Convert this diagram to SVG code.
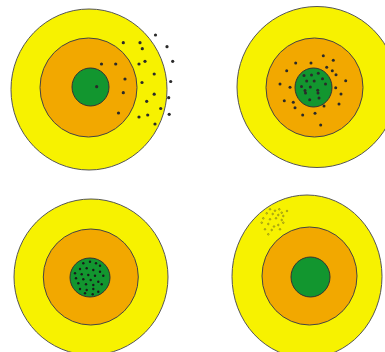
<svg xmlns="http://www.w3.org/2000/svg" width="385" height="352" viewBox="0 0 385 352">
<style>
.y{fill:#f7f200;stroke:#555;stroke-width:1}
.o{fill:#f2a800;stroke:#444;stroke-width:1}
.g{fill:#12962f;stroke:#333;stroke-width:1}
.d circle{fill:#2a2a2a}
.s circle{fill:#1a1a1a}
.t circle{fill:none;stroke:#6b6a20;stroke-width:0.6}
</style>
<rect width="385" height="352" fill="#fff"/>
<g id="target1">
<ellipse class="y" cx="89" cy="89.5" rx="78" ry="80.5"/>
<ellipse class="o" cx="88.5" cy="87.5" rx="48.5" ry="49.5"/>
<ellipse class="g" cx="90.5" cy="87" rx="18.5" ry="19"/>
<g class="d">
<circle cx="96.7" cy="86.7" r="1.6"/><circle cx="101.5" cy="64" r="1.6"/><circle cx="115.7" cy="64" r="1.6"/>
<circle cx="123.3" cy="42.7" r="1.6"/><circle cx="140" cy="42.7" r="1.6"/><circle cx="142.3" cy="48.7" r="1.6"/>
<circle cx="155.5" cy="35" r="1.6"/><circle cx="167" cy="46.7" r="1.6"/><circle cx="172.7" cy="61.3" r="1.6"/>
<circle cx="145" cy="61.3" r="1.6"/><circle cx="139" cy="64" r="1.6"/><circle cx="125" cy="79" r="1.6"/>
<circle cx="142" cy="82.5" r="1.6"/><circle cx="154.2" cy="74" r="1.6"/><circle cx="170.7" cy="81.5" r="1.6"/>
<circle cx="123.3" cy="92.7" r="1.6"/><circle cx="154.2" cy="94.2" r="1.6"/><circle cx="168.7" cy="97.7" r="1.6"/>
<circle cx="146.7" cy="101.3" r="1.6"/><circle cx="160.7" cy="108.5" r="1.6"/><circle cx="169.2" cy="114.3" r="1.6"/>
<circle cx="118.5" cy="113" r="1.6"/><circle cx="139" cy="117" r="1.6"/><circle cx="147.7" cy="115" r="1.6"/>
<circle cx="155" cy="124" r="1.6"/>
</g>
</g>
<g id="target2">
<ellipse class="y" cx="317" cy="87" rx="80" ry="80.5"/>
<ellipse class="o" cx="314.5" cy="87.5" rx="48.5" ry="49.5"/>
<ellipse class="g" cx="313.5" cy="87.5" rx="18.5" ry="19.5"/>
<g class="d">
<circle cx="323.3" cy="55.7" r="1.5"/><circle cx="333.3" cy="60.3" r="1.5"/><circle cx="295.7" cy="63" r="1.5"/>
<circle cx="311" cy="63" r="1.5"/><circle cx="326.7" cy="67.3" r="1.5"/><circle cx="286.7" cy="70.7" r="1.5"/>
<circle cx="332.3" cy="70.7" r="1.5"/><circle cx="336" cy="74.7" r="1.5"/><circle cx="345.7" cy="80.7" r="1.5"/>
<circle cx="280" cy="84" r="1.5"/><circle cx="290" cy="87.3" r="1.5"/><circle cx="335.7" cy="87.7" r="1.5"/>
<circle cx="341" cy="94" r="1.5"/><circle cx="284.3" cy="100.7" r="1.5"/><circle cx="293.3" cy="102.3" r="1.5"/>
<circle cx="295" cy="107.7" r="1.5"/><circle cx="324" cy="106" r="1.5"/><circle cx="339" cy="104" r="1.5"/>
<circle cx="302.7" cy="115" r="1.5"/><circle cx="315" cy="113.3" r="1.5"/><circle cx="320.7" cy="125" r="1.5"/>
<circle cx="304" cy="75.5" r="1.5"/><circle cx="311.5" cy="75" r="1.5"/><circle cx="318.3" cy="73.3" r="1.5"/>
<circle cx="306.7" cy="81" r="1.5"/><circle cx="314.2" cy="81" r="1.5"/><circle cx="322.5" cy="78.7" r="1.5"/>
<circle cx="325.5" cy="84" r="1.5"/><circle cx="301.5" cy="86.5" r="1.5"/><circle cx="310.3" cy="87" r="1.5"/>
<circle cx="305" cy="90.5" r="1.5"/><circle cx="305.5" cy="93" r="1.5"/><circle cx="317.7" cy="90.3" r="1.5"/>
<circle cx="318" cy="93" r="1.5"/><circle cx="319" cy="98" r="1.5"/><circle cx="309.7" cy="99.7" r="1.5"/>
</g>
</g>
<g id="target3">
<ellipse class="y" cx="91" cy="277" rx="77" ry="78"/>
<ellipse class="o" cx="90.8" cy="277" rx="47.5" ry="48"/>
<ellipse class="g" cx="90" cy="277.5" rx="20" ry="19.5"/>
<g class="s">
<circle cx="83.3" cy="263.3" r="1.2"/><circle cx="90" cy="261.7" r="1.2"/><circle cx="96" cy="263.3" r="1.2"/>
<circle cx="100" cy="265.7" r="1.2"/><circle cx="80" cy="269" r="1.2"/><circle cx="86.7" cy="268.3" r="1.2"/>
<circle cx="93.3" cy="270" r="1.2"/><circle cx="100" cy="271.7" r="1.2"/><circle cx="75" cy="273.3" r="1.2"/>
<circle cx="81.7" cy="274.3" r="1.2"/><circle cx="88.3" cy="275" r="1.2"/><circle cx="95" cy="275.7" r="1.2"/>
<circle cx="103.3" cy="275.7" r="1.2"/><circle cx="76" cy="278.3" r="1.2"/><circle cx="83.3" cy="279.3" r="1.2"/>
<circle cx="90.7" cy="280" r="1.2"/><circle cx="98.3" cy="281.7" r="1.2"/><circle cx="78.3" cy="283.3" r="1.2"/>
<circle cx="86" cy="284.3" r="1.2"/><circle cx="93.3" cy="285" r="1.2"/><circle cx="101.7" cy="284.3" r="1.2"/>
<circle cx="80" cy="289" r="1.2"/><circle cx="86.7" cy="290" r="1.2"/><circle cx="93.3" cy="289" r="1.2"/>
<circle cx="85" cy="293.3" r="1.2"/><circle cx="92.7" cy="294.3" r="1.2"/><circle cx="98.3" cy="291.7" r="1.2"/>
</g>
</g>
<g id="target4">
<ellipse class="y" cx="307" cy="276.5" rx="75" ry="81.5"/>
<ellipse class="o" cx="309.5" cy="276" rx="47.5" ry="49"/>
<ellipse class="g" cx="310.5" cy="277" rx="19.5" ry="20"/>
<g class="t">
<circle cx="270" cy="209.3" r="0.8"/><circle cx="275" cy="210.7" r="0.8"/><circle cx="279.3" cy="209.3" r="0.8"/>
<circle cx="281.7" cy="212.7" r="0.8"/><circle cx="266.7" cy="213.3" r="0.8"/><circle cx="272.7" cy="214" r="0.8"/>
<circle cx="278.3" cy="215" r="0.8"/><circle cx="283.3" cy="216" r="0.8"/><circle cx="263.3" cy="218.3" r="0.8"/>
<circle cx="270" cy="219.3" r="0.8"/><circle cx="276" cy="218.3" r="0.8"/><circle cx="281.7" cy="220" r="0.8"/>
<circle cx="261.7" cy="222.7" r="0.8"/><circle cx="268.3" cy="224" r="0.8"/><circle cx="278.3" cy="225" r="0.8"/>
<circle cx="283.3" cy="222.7" r="0.8"/><circle cx="265" cy="229.3" r="0.8"/><circle cx="271.7" cy="230" r="0.8"/>
<circle cx="280" cy="229.3" r="0.8"/><circle cx="268.3" cy="234.3" r="0.8"/><circle cx="287" cy="211" r="0.8"/>
<circle cx="274" cy="226.5" r="0.8"/>
</g>
</g>
</svg>
